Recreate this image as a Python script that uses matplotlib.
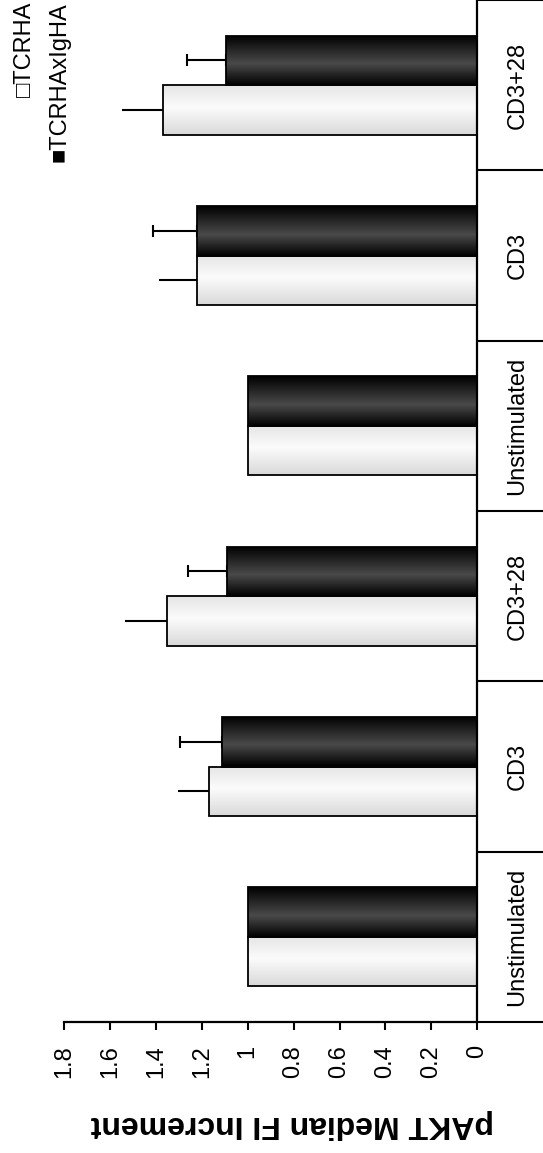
import numpy as np
import matplotlib
matplotlib.use("Agg")
import matplotlib.pyplot as plt

plt.rcParams['font.family'] = ['Liberation Sans', 'DejaVu Sans']

# data (bottom to top as drawn)
categories = ["Unstimulated", "CD3", "CD3+28", "Unstimulated", "CD3", "CD3+28"]
tcrha = [1.0, 1.17, 1.353, 1.0, 1.222, 1.368]
tcrha_err = [0.0, 0.135, 0.18, 0.0, 0.163, 0.179]
tcrha_igha = [1.0, 1.113, 1.091, 1.0, 1.222, 1.094]
tcrha_igha_err = [0.0, 0.18, 0.168, 0.0, 0.189, 0.169]
value_ticks = [0, 0.2, 0.4, 0.6, 0.8, 1.0, 1.2, 1.4, 1.6, 1.8]

W, H = 543, 1153
fig = plt.figure(figsize=(W / 100, H / 100), dpi=100)
ax = fig.add_axes([64 / W, 1 - 1022 / H, (477.3 - 64) / W, 1022 / H])

pos = np.arange(len(categories))
bh = 0.29


def gradient_bars(bars, stops_t, stops_v):
    t = np.linspace(0, 1, 200)
    g = np.interp(t, stops_t, stops_v)
    img = np.repeat(g[:, None, None], 3, axis=2)
    for b in bars:
        x0, y0 = b.get_x(), b.get_y()
        w, h = b.get_width(), b.get_height()
        im = ax.imshow(img, extent=[x0, x0 + w, y0, y0 + h], origin='lower',
                       aspect='auto', zorder=2, interpolation='bilinear')
        im.set_clip_path(b)


white_bars = ax.barh(pos - bh / 2, tcrha, height=bh, facecolor='none',
                     edgecolor='black', linewidth=1.3, zorder=3)
black_bars = ax.barh(pos + bh / 2, tcrha_igha, height=bh, facecolor='none',
                     edgecolor='black', linewidth=1.3, zorder=3)
gradient_bars(white_bars, [0, 0.55, 1], [0.85, 0.985, 0.9])
gradient_bars(black_bars, [0, 0.43, 1], [0.0, 0.29, 0.0])

# error bars (one-sided)
e1 = np.array(tcrha_err)
m1 = e1 > 0
ax.errorbar(np.array(tcrha)[m1], (pos - bh / 2)[m1], xerr=[np.zeros(m1.sum()), e1[m1]],
            fmt='none', ecolor='black', elinewidth=1.5, capsize=0, zorder=1)
e2 = np.array(tcrha_igha_err)
m2 = e2 > 0
ax.errorbar(np.array(tcrha_igha)[m2], (pos + bh / 2)[m2], xerr=[np.zeros(m2.sum()), e2[m2]],
            fmt='none', ecolor='black', elinewidth=1.5, capsize=4.2, capthick=1.5, zorder=1)

ax.set_xlim(1.8, 0)
ax.set_ylim(-0.5, len(categories) - 0.5)

for s in ['left', 'top']:
    ax.spines[s].set_visible(False)
for s in ['bottom', 'right']:
    ax.spines[s].set_linewidth(1.6)

ax.set_xticks(value_ticks)
ax.set_xticklabels(['{:g}'.format(v) for v in value_ticks], rotation=90)
ax.tick_params(axis='x', direction='out', length=5.5, width=1.5, pad=11, labelsize=17)

ax.yaxis.tick_right()
ax.set_yticks(pos)
ax.set_yticklabels(categories, rotation=90)
ax.set_yticks(np.arange(-0.5, len(categories), 1), minor=True)
ax.tick_params(axis='y', which='major', length=0, pad=21, labelsize=17)
ax.tick_params(axis='y', which='minor', length=48, width=1.5, direction='out')
for lab in ax.get_yticklabels():
    lab.set_va('center')

fig.text(292.5 / W, 1 - 1124 / H, 'pAKT Median FI Increment', rotation=180,
         ha='center', va='center', fontsize=23, fontweight='bold')

fig.text(25 / W, 1 - 2 / H, '\u25a1TCRHA', rotation=90, ha='center', va='top', fontsize=17)
fig.text(60 / W, 1 - 2 / H, '\u25a0TCRHAxIgHA', rotation=90, ha='center', va='top', fontsize=17)

fig.savefig('out.png', dpi=100)
